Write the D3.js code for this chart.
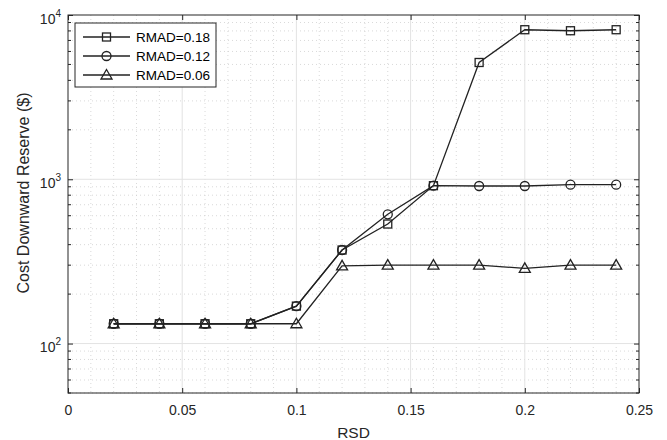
<!DOCTYPE html>
<html>
<head>
<meta charset="utf-8">
<script src="https://cdn.jsdelivr.net/npm/d3@7"></script>
<style>
  html, body { margin: 0; padding: 0; background: #fff; }
  svg { display: block; font-family: "Liberation Sans", Arial, Helvetica, sans-serif; }
</style>
</head>
<body>
<svg id="chart" width="667" height="440"></svg>
<script>
// Relative standard deviation values on the x axis
const rsd = [0.02, 0.04, 0.06, 0.08, 0.10, 0.12, 0.14, 0.16, 0.18, 0.20, 0.22, 0.24];

// Downward reserve cost ($) for each RMAD level
const rmad018 = [132, 132, 132, 132, 169, 371, 534, 914, 5140, 8135, 8020, 8135];
const rmad012 = [132, 132, 132, 132, 169, 371, 612, 914, 910, 910, 927, 927];
const rmad006 = [132, 132, 132, 132, 132, 297, 300, 300, 300, 287, 300, 300];

const seriesNames = ["RMAD=0.18", "RMAD=0.12", "RMAD=0.06"];
const markerKinds = ["square", "circle", "triangle"];

const xTicks = [0, 0.05, 0.1, 0.15, 0.2, 0.25];
const xTickLabels = ["0", "0.05", "0.1", "0.15", "0.2", "0.25"];
const yTicks = [100, 1000, 10000];
const yTickExponents = ["2", "3", "4"];

const series = [rmad018, rmad012, rmad006].map((vals, i) => ({
  name: seriesNames[i],
  marker: markerKinds[i],
  points: rsd.map((x, j) => ({ x, y: vals[j] }))
}));

const svg = d3.select("#chart");
const pL = 68, pR = 639, pT = 15, pB = 393;
const axisColor = "#262626";

const x = d3.scaleLinear().domain([0, 0.25]).range([pL, pR]);
const y = d3.scaleLog().domain([50, 10000]).range([pB, pT]);

// Minor grid positions
const xMinor = d3.range(0, 0.2501, 0.01).filter(v => Math.abs(v / 0.05 - Math.round(v / 0.05)) > 1e-6);
const yMinor = [];
[10, 100, 1000].forEach(dec => { for (let k = 2; k <= 9; k++) { const v = dec * k; if (v >= 50 && v <= 10000) yMinor.push(v); } });

const grid = svg.append("g");
grid.selectAll(".xm").data(xMinor).enter().append("line")
  .attr("x1", d => x(d)).attr("x2", d => x(d)).attr("y1", pT).attr("y2", pB)
  .attr("stroke", "#cfcfcf").attr("stroke-width", 0.8).attr("stroke-dasharray", "1,3");
grid.selectAll(".ym").data(yMinor).enter().append("line")
  .attr("y1", d => y(d)).attr("y2", d => y(d)).attr("x1", pL).attr("x2", pR)
  .attr("stroke", "#cfcfcf").attr("stroke-width", 0.8).attr("stroke-dasharray", "1,3");
grid.selectAll(".xM").data(xTicks.slice(1, -1)).enter().append("line")
  .attr("x1", d => x(d)).attr("x2", d => x(d)).attr("y1", pT).attr("y2", pB)
  .attr("stroke", "#e3e3e3").attr("stroke-width", 1);
grid.selectAll(".yM").data(yTicks.slice(0, -1)).enter().append("line")
  .attr("y1", d => y(d)).attr("y2", d => y(d)).attr("x1", pL).attr("x2", pR)
  .attr("stroke", "#e3e3e3").attr("stroke-width", 1);

// Axes: bottom with labels; top, left and right carry inward ticks only
const xAxisB = d3.axisBottom(x).tickValues(xTicks).tickSize(-5).tickPadding(12)
  .tickFormat((d, i) => xTickLabels[i]);
const xAxisT = d3.axisTop(x).tickValues(xTicks).tickSize(-5).tickFormat("");
const yAxisL = d3.axisLeft(y).tickValues(yTicks).tickSize(-5).tickFormat("");
const yAxisR = d3.axisRight(y).tickValues(yTicks).tickSize(-5).tickFormat("");

function styleAxis(g) {
  g.select(".domain").remove();
  g.selectAll("line").attr("stroke", axisColor).attr("stroke-width", 1);
  g.selectAll("text").attr("fill", axisColor).attr("font-size", 14)
   .attr("font-family", "Liberation Sans, Arial, sans-serif");
}
svg.append("g").attr("transform", `translate(0,${pB})`).call(xAxisB).call(styleAxis);
svg.append("g").attr("transform", `translate(0,${pT})`).call(xAxisT).call(styleAxis);
svg.append("g").attr("transform", `translate(${pL},0)`).call(yAxisL).call(styleAxis);
svg.append("g").attr("transform", `translate(${pR},0)`).call(yAxisR).call(styleAxis);

// Minor y ticks on both sides
const minorTicks = svg.append("g");
yMinor.forEach(v => {
  minorTicks.append("line").attr("x1", pL).attr("x2", pL + 3).attr("y1", y(v)).attr("y2", y(v))
    .attr("stroke", axisColor).attr("stroke-width", 1);
  minorTicks.append("line").attr("x1", pR).attr("x2", pR - 3).attr("y1", y(v)).attr("y2", y(v))
    .attr("stroke", axisColor).attr("stroke-width", 1);
});

// Y tick labels as powers of ten
yTicks.forEach((v, i) => {
  const t = svg.append("text").attr("x", 61).attr("y", y(v) + 8.5)
    .attr("text-anchor", "end").attr("fill", axisColor).attr("font-size", 14);
  t.append("tspan").text("10");
  t.append("tspan").attr("dy", -7).attr("font-size", 10).text(yTickExponents[i]);
});

// Plot box
svg.append("rect").attr("x", pL).attr("y", pT).attr("width", pR - pL).attr("height", pB - pT)
  .attr("fill", "none").attr("stroke", axisColor).attr("stroke-width", 1);

// Axis titles
svg.append("text").attr("x", (pL + pR) / 2).attr("y", 438)
  .attr("text-anchor", "middle").attr("fill", axisColor).attr("font-size", 15.5).text("RSD");
svg.append("text").attr("transform", `translate(23,193) rotate(-90)`)
  .attr("text-anchor", "middle").attr("dominant-baseline", "central")
  .attr("fill", axisColor).attr("font-size", 16).text("Cost Downward Reserve ($)");

// Marker drawing helper
function drawMarker(g, kind, cx, cy) {
  let m;
  if (kind === "square") {
    m = g.append("rect").attr("x", cx - 4).attr("y", cy - 4).attr("width", 8).attr("height", 8);
  } else if (kind === "circle") {
    m = g.append("circle").attr("cx", cx).attr("cy", cy).attr("r", 4.5);
  } else {
    m = g.append("path").attr("d", `M${cx},${cy - 5.5}L${cx + 5.5},${cy + 4}L${cx - 5.5},${cy + 4}Z`);
  }
  m.attr("fill", "none").attr("stroke", "#222").attr("stroke-width", 1.3);
}

const line = d3.line().x(d => x(d.x)).y(d => y(d.y));
const plot = svg.append("g");
series.forEach(s => {
  plot.append("path").datum(s.points).attr("d", line)
    .attr("fill", "none").attr("stroke", "#222").attr("stroke-width", 1.3);
  s.points.forEach(p => drawMarker(plot, s.marker, x(p.x), y(p.y)));
});

// Legend
const lg = svg.append("g");
lg.append("rect").attr("x", 75).attr("y", 23).attr("width", 141).attr("height", 64)
  .attr("fill", "#fff").attr("stroke", axisColor).attr("stroke-width", 1);
series.forEach((s, i) => {
  const ly = 37 + i * 19;
  lg.append("line").attr("x1", 83).attr("x2", 130).attr("y1", ly).attr("y2", ly)
    .attr("stroke", "#222").attr("stroke-width", 1.3);
  drawMarker(lg, s.marker, 106.5, ly);
  lg.append("text").attr("x", 136).attr("y", ly + 5).attr("fill", "#000")
    .attr("font-size", 13.5).text(s.name);
});
</script>
</body>
</html>
